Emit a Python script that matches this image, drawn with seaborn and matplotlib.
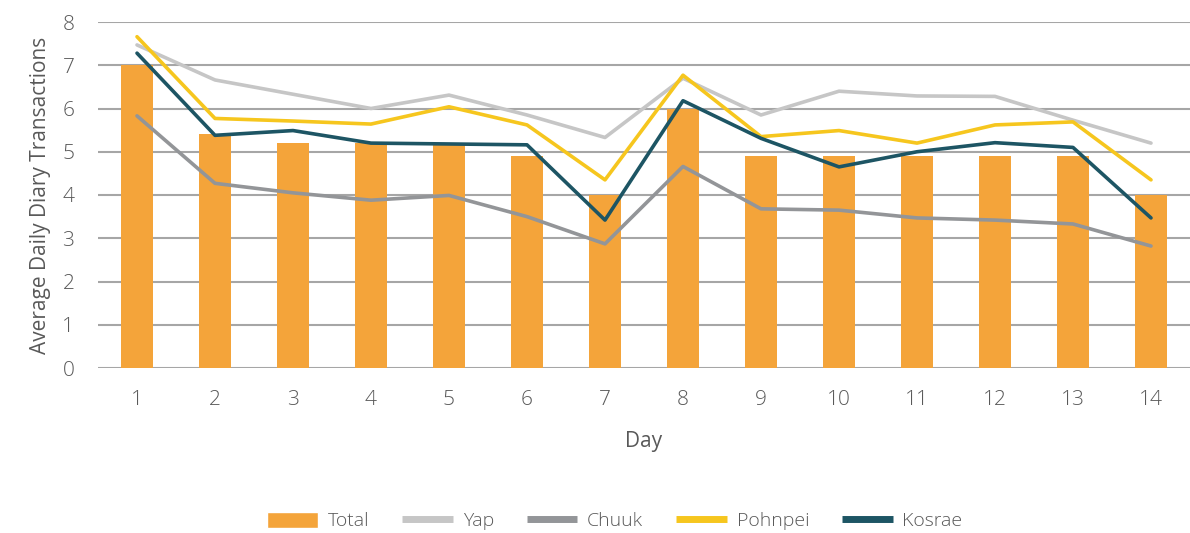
import pandas as pd
import matplotlib.pyplot as plt
import seaborn as sns
import numpy as np
from matplotlib.patches import Patch
from matplotlib.lines import Line2D

# Data
days = list(range(1, 15))
total = [7.0, 5.4, 5.2, 5.2, 5.2, 4.9, 4.0, 6.0, 4.9, 4.9, 4.9, 4.9, 4.9, 4.0]
yap = [7.47, 6.66, 6.33, 6.0, 6.31, 5.85, 5.33, 6.70, 5.85, 6.40, 6.29, 6.28, 5.73, 5.20]
chuuk = [5.83, 4.27, 4.05, 3.88, 3.99, 3.50, 2.87, 4.66, 3.68, 3.65, 3.47, 3.42, 3.33, 2.82]
pohnpei = [7.66, 5.77, 5.71, 5.64, 6.04, 5.62, 4.35, 6.77, 5.35, 5.49, 5.20, 5.62, 5.69, 4.35]
kosrae = [7.28, 5.38, 5.49, 5.20, 5.18, 5.16, 3.42, 6.18, 5.31, 4.65, 5.00, 5.21, 5.10, 3.47]

colors = {'Total': '#F4A43A', 'Yap': '#C6C6C6', 'Chuuk': '#939598',
          'Pohnpei': '#F6C61E', 'Kosrae': '#1D5564'}
text_color = '#595959'

sns.set_style('white')
plt.rcParams['font.family'] = ['Open Sans', 'DejaVu Sans']
plt.rcParams['font.weight'] = 'light'

bars = pd.DataFrame({'Day': days, 'Total': total})
lines = pd.DataFrame({'pos': np.arange(len(days)), 'Yap': yap, 'Chuuk': chuuk,
                      'Pohnpei': pohnpei, 'Kosrae': kosrae})
lines_long = lines.melt(id_vars='pos', var_name='Region', value_name='Value')

fig = plt.figure(figsize=(11.9, 5.33), dpi=100)
ax = fig.add_axes([98 / 1190, 1 - 368 / 533, 1 - 98 / 1190, (368 - 22) / 533])

sns.barplot(data=bars, x='Day', y='Total', color=colors['Total'], width=0.42,
            saturation=1, linewidth=0, ax=ax, zorder=2)
sns.lineplot(data=lines_long, x='pos', y='Value', hue='Region',
             palette={k: colors[k] for k in ['Yap', 'Chuuk', 'Pohnpei', 'Kosrae']},
             linewidth=2.6, legend=False, ax=ax, zorder=3)

ax.set_xlim(-0.5, len(days) - 0.5)
ax.set_ylim(0, 8)
ax.set_yticks(range(0, 9))
ax.yaxis.grid(True, color='#A6A6A6', linewidth=1.5, zorder=0)
ax.set_axisbelow(True)
for s in ax.spines.values():
    s.set_visible(False)
ax.tick_params(axis='both', length=0, labelsize=15, labelcolor=text_color)
ax.tick_params(axis='y', pad=17)
ax.tick_params(axis='x', pad=16)
ax.set_xlabel('Day', fontsize=15, color=text_color, labelpad=15)
ax.set_ylabel('Average Daily Diary Transactions', fontsize=15, color=text_color, labelpad=8)

handles = [Patch(facecolor=colors['Total'], label='Total')]
for k in ['Yap', 'Chuuk', 'Pohnpei', 'Kosrae']:
    handles.append(Line2D([0], [0], color=colors[k], linewidth=5,
                          solid_capstyle='butt', label=k))
leg = fig.legend(handles=handles, loc='center', bbox_to_anchor=(615 / 1190, 1 - 521 / 533),
                 ncol=5, frameon=False, fontsize=14, handlelength=2.6, handleheight=0.9,
                 columnspacing=1.7, handletextpad=0.5)
for t in leg.get_texts():
    t.set_color(text_color)

plt.savefig('out.png', dpi=100)
plt.close()
